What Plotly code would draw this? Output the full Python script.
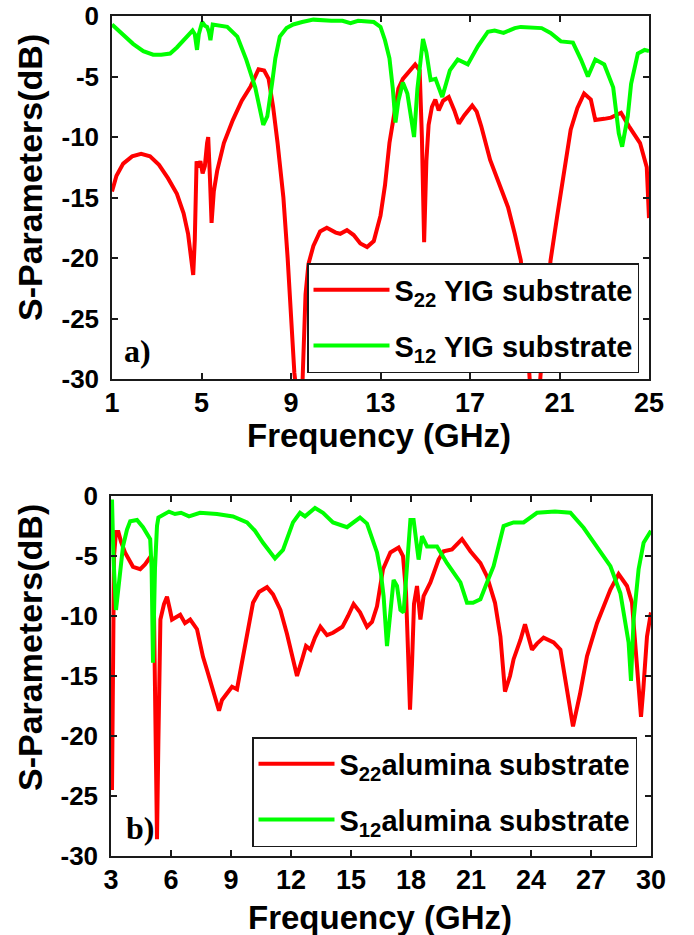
import plotly.graph_objects as go

# ---------------- data: (a) YIG substrate ----------------
freq_a_s22 = [1.0, 1.2, 1.5, 1.9, 2.3, 2.7, 3.1, 3.5, 3.9, 4.2, 4.4, 4.55, 4.63, 4.7, 4.78, 4.85,
              4.95, 5.05, 5.15, 5.25, 5.3, 5.38, 5.45, 5.55, 5.7, 6.0, 6.4, 6.8, 7.2, 7.55, 7.8,
              8.0, 8.2, 8.4, 8.66, 8.85, 9.0, 9.15, 9.3, 9.5, 9.65, 9.78, 10.0, 10.3, 10.6, 11.0,
              11.2, 11.5, 11.8, 12.1, 12.4, 12.7, 13.0, 13.2, 13.4, 13.6, 13.8, 14.0, 14.3, 14.55,
              14.75, 14.85, 14.95, 15.05, 15.15, 15.3, 15.45, 15.6, 15.8, 16.05, 16.3, 16.5, 16.75,
              17.1, 17.3, 17.5, 17.9, 18.3, 18.7, 19.0, 19.27, 19.5, 19.7, 19.9, 20.1, 20.3, 20.6,
              20.9, 21.15, 21.5, 21.8, 22.1, 22.4, 22.6, 23.0, 23.3, 23.75, 24.1, 24.6, 24.9, 25.0]
s22_a = [-14.5, -13.2, -12.2, -11.6, -11.4, -11.6, -12.3, -13.4, -14.7, -16.3, -18.0, -20.5, -21.4,
         -18.5, -12.0, -12.5, -12.0, -13.0, -12.4, -10.5, -10.0, -13.5, -17.1, -14.5, -12.8, -10.5,
         -8.6, -7.0, -5.8, -4.4, -4.5, -5.2, -7.5, -10.5, -15.0, -20.0, -25.0, -29.5, -32.0, -31.0,
         -23.0, -20.5, -19.0, -17.8, -17.5, -17.9, -18.0, -17.7, -18.1, -18.8, -19.1, -18.6, -16.5,
         -14.0, -10.5, -8.3, -6.0, -5.2, -4.5, -4.0, -4.5, -10.0, -18.7, -12.0, -9.0, -7.5, -6.9,
         -7.8, -7.0, -6.7, -7.8, -8.9, -8.2, -7.4, -7.9, -9.1, -11.9, -13.8, -15.8, -18.0, -20.2,
         -25.0, -31.0, -32.0, -31.0, -26.0, -20.2, -16.5, -13.6, -9.4, -7.6, -6.4, -6.9, -8.6,
         -8.5, -8.4, -8.0, -9.1, -10.5, -12.5, -16.7]

freq_a_s12 = [1.0, 1.4, 1.94, 2.4, 2.84, 3.2, 3.6, 3.9, 4.2, 4.45, 4.6, 4.7, 4.8, 4.88, 5.03, 5.15,
              5.25, 5.33, 5.4, 5.5, 5.8, 6.15, 6.6, 7.0, 7.4, 7.6, 7.76, 7.94, 8.05, 8.16, 8.3, 8.5,
              8.8, 9.1, 9.5, 10.0, 10.8, 11.3, 11.66, 12.0, 12.7, 13.0, 13.2, 13.4, 13.55, 13.67,
              13.8, 14.0, 14.2, 14.35, 14.5, 14.65, 14.9, 15.05, 15.24, 15.46, 15.76, 16.1, 16.45,
              16.9, 17.35, 17.8, 18.1, 18.5, 19.0, 19.27, 19.8, 20.2, 20.6, 21.06, 21.6, 21.96,
              22.27, 22.6, 23.0, 23.4, 23.65, 23.8, 24.05, 24.2, 24.5, 24.8, 25.0]
s12_a = [-0.7, -1.4, -2.3, -2.9, -3.2, -3.2, -3.1, -2.6, -2.0, -1.5, -1.2, -1.5, -2.8, -1.5, -0.5,
         -0.8, -0.9, -1.3, -2.0, -0.7, -0.8, -0.9, -1.7, -3.6, -5.9, -7.8, -9.0, -8.3, -7.0, -5.5,
         -3.5, -1.7, -1.0, -0.7, -0.5, -0.3, -0.4, -0.4, -0.6, -0.4, -0.5, -0.9, -2.0, -3.5, -6.0,
         -8.8, -7.0, -5.5, -6.4, -8.0, -10.0, -6.0, -1.9, -3.0, -5.3, -5.2, -6.7, -4.5, -3.6, -4.0,
         -2.5, -1.3, -1.2, -1.4, -1.0, -0.9, -1.0, -1.0, -1.4, -2.1, -2.2, -3.6, -5.0, -3.6, -4.0,
         -5.9, -9.7, -10.8, -8.3, -5.6, -3.1, -2.8, -2.9]

# ---------------- data: (b) alumina substrate ----------------
freq_b_s22 = [3.05, 3.1, 3.15, 3.25, 3.37, 3.5, 3.7, 4.1, 4.46, 4.7, 4.87, 5.0, 5.12, 5.18, 5.25,
              5.3, 5.37, 5.42, 5.47, 5.65, 5.8, 5.95, 6.05, 6.25, 6.46, 6.7, 6.96, 7.3, 7.6, 7.8,
              8.1, 8.4, 8.55, 8.7, 9.05, 9.3, 9.6, 9.85, 10.1, 10.4, 10.8, 11.1, 11.47, 11.8, 12.06,
              12.3, 12.56, 12.75, 12.97, 13.2, 13.47, 13.8, 14.1, 14.57, 14.85, 15.13, 15.45, 15.8,
              16.05, 16.3, 16.6, 16.97, 17.38, 17.6, 17.75, 17.88, 17.95, 18.05, 18.15, 18.3, 18.47,
              18.63, 18.97, 19.38, 19.63, 20.05, 20.55, 20.97, 21.47, 21.8, 22.2, 22.47, 22.7, 22.95,
              23.13, 23.47, 23.7, 24.05, 24.3, 24.63, 25.13, 25.47, 25.8, 26.1, 26.45, 26.8, 27.3,
              27.97, 28.38, 28.8, 29.05, 29.2, 29.35, 29.5, 29.62, 29.8, 30.0]
s22_b = [-24.5, -15.0, -5.0, -3.0, -3.0, -3.8, -4.7, -5.9, -6.1, -5.7, -5.3, -5.0, -6.0, -15.0,
         -25.0, -28.6, -20.3, -14.0, -10.3, -9.0, -8.4, -9.5, -10.3, -10.1, -9.9, -10.6, -10.3,
         -11.1, -13.4, -14.5, -16.1, -17.9, -17.0, -16.7, -15.9, -16.1, -13.4, -11.0, -8.9, -8.0,
         -7.6, -8.2, -9.5, -11.5, -13.3, -15.0, -13.6, -12.5, -12.8, -11.8, -10.9, -11.6, -11.4,
         -10.9, -10.0, -9.0, -9.7, -10.9, -10.5, -9.2, -6.1, -4.7, -4.3, -5.0, -8.0, -14.5, -17.8,
         -14.0, -9.0, -7.5, -10.3, -8.35, -7.2, -5.3, -4.6, -4.45, -3.6, -4.6, -5.6, -6.7, -8.9,
         -11.7, -16.3, -15.0, -13.6, -12.0, -10.7, -12.8, -12.3, -11.8, -12.2, -12.8, -16.0, -19.2,
         -16.5, -13.35, -10.6, -7.8, -6.5, -7.5, -8.9, -12.0, -16.0, -18.4, -16.0, -11.7, -9.7]

freq_b_s12 = [3.05, 3.12, 3.25, 3.4, 3.6, 3.8, 3.96, 4.3, 4.6, 4.96, 5.03, 5.1, 5.2, 5.3, 5.37, 5.9,
              6.2, 6.5, 6.9, 7.45, 8.3, 9.1, 9.8, 10.2, 10.6, 11.2, 11.6, 12.1, 12.45, 12.7, 13.2,
              13.6, 14.1, 14.8, 15.45, 15.8, 16.3, 16.5, 16.63, 16.8, 16.97, 17.13, 17.3, 17.47,
              17.63, 17.8, 17.97, 18.13, 18.38, 18.55, 18.8, 19.3, 19.8, 20.47, 20.8, 21.1, 21.47,
              21.8, 22.13, 22.63, 23.13, 23.63, 24.3, 25.2, 25.97, 26.63, 27.3, 27.97, 28.47, 28.88,
              29.0, 29.13, 29.38, 29.63, 30.0]
s12_b = [-0.3, -5.0, -9.5, -7.0, -4.2, -2.8, -2.1, -2.0, -2.6, -3.6, -6.0, -13.9, -6.0, -2.5, -1.8,
         -1.3, -1.5, -1.4, -1.7, -1.4, -1.5, -1.7, -2.2, -2.9, -3.9, -5.2, -4.5, -2.2, -1.4, -1.7,
         -1.0, -1.4, -2.2, -2.6, -1.8, -2.3, -4.7, -6.5, -8.35, -12.5, -9.5, -7.0, -7.5, -9.5, -9.7,
         -6.1, -2.0, -2.0, -5.3, -3.35, -4.2, -4.2, -5.6, -7.2, -8.9, -8.9, -8.6, -7.2, -5.85, -2.5,
         -2.2, -2.2, -1.4, -1.3, -1.4, -2.65, -4.2, -5.85, -8.1, -12.2, -15.4, -10.3, -6.1, -3.9,
         -2.9]

y_ticks = [0, -5, -10, -15, -20, -25, -30]
x_ticks_a = [1, 5, 9, 13, 17, 21, 25]
x_ticks_b = [3, 6, 9, 12, 15, 18, 21, 24, 27, 30]

RED = "#ff0000"
GREEN = "#00ff00"
AXC = "#1a1a1a"
SANS = "Liberation Sans, Arial, sans-serif"
SERIF = "Liberation Serif, Times New Roman, serif"

W, H = 694, 935

def fx(px):
    return px / W

def fy(py):
    return 1 - py / H

fig = go.Figure()
fig.add_trace(go.Scatter(x=freq_a_s22, y=s22_a, mode="lines", line=dict(color=RED, width=4),
                         name="S<sub>22</sub> YIG substrate", legend="legend", legendgroup="a1",
                         xaxis="x", yaxis="y"))
fig.add_trace(go.Scatter(x=freq_a_s12, y=s12_a, mode="lines", line=dict(color=GREEN, width=4),
                         name="S<sub>12</sub> YIG substrate", legend="legend", legendgroup="a2",
                         xaxis="x", yaxis="y"))
fig.add_trace(go.Scatter(x=freq_b_s22, y=s22_b, mode="lines", line=dict(color=RED, width=4),
                         name="S<sub>22</sub>alumina substrate", legend="legend2", legendgroup="b1",
                         xaxis="x2", yaxis="y2"))
fig.add_trace(go.Scatter(x=freq_b_s12, y=s12_b, mode="lines", line=dict(color=GREEN, width=4),
                         name="S<sub>12</sub>alumina substrate", legend="legend2", legendgroup="b2",
                         xaxis="x2", yaxis="y2"))

def xax(domain, rng, ticks, anchor):
    return dict(domain=domain, range=rng, tickvals=ticks, ticktext=[str(t) for t in ticks],
                anchor=anchor, showline=True, mirror="ticks", linecolor=AXC, linewidth=1.5,
                ticks="inside", ticklen=6, tickwidth=1.5, tickcolor=AXC, showgrid=False,
                zeroline=False, automargin=False, ticklabeloverflow="allow",
                tickfont=dict(family=SANS, size=27, color="black", weight="bold"),
                ticklabelstandoff=-1)

def yax(domain, anchor):
    return dict(domain=domain, range=[-30, 0], tickvals=y_ticks, ticktext=[str(t) for t in y_ticks],
                anchor=anchor, showline=True, mirror="ticks", linecolor=AXC, linewidth=1.5,
                ticks="inside", ticklen=6, tickwidth=1.5, tickcolor=AXC, showgrid=False,
                zeroline=False, automargin=False, ticklabeloverflow="allow",
                tickfont=dict(family=SANS, size=26, color="black", weight="bold"),
                ticklabelstandoff=6)

legend_common = dict(bgcolor="white", bordercolor=AXC, borderwidth=1.5,
                     font=dict(family=SANS, size=29, color="black", weight="bold"),
                     tracegroupgap=15, itemwidth=76, xanchor="right", yanchor="bottom")

fig.update_layout(
    width=W, height=H, margin=dict(l=0, r=0, t=0, b=0, autoexpand=False),
    paper_bgcolor="white", plot_bgcolor="white",
    xaxis=xax([fx(112), fx(649)], [1, 25], x_ticks_a, "y"),
    yaxis=yax([fy(379), fy(16)], "x"),
    xaxis2=xax([fx(111), fx(651)], [3, 30], x_ticks_b, "y2"),
    yaxis2=yax([fy(856), fy(496)], "x2"),
    legend=dict(x=fx(639), y=fy(373), **legend_common),
    legend2=dict(x=fx(637), y=fy(847), **legend_common),
    showlegend=True,
)

title_font = dict(family=SANS, size=34, color="black", weight="bold")
annots = [
    dict(text="S-Parameters(dB)", textangle=-90, x=fx(30), y=fy(178), xref="paper", yref="paper",
         xanchor="center", yanchor="middle", showarrow=False, font=title_font),
    dict(text="S-Parameters(dB)", textangle=-90, x=fx(30), y=fy(648), xref="paper", yref="paper",
         xanchor="center", yanchor="middle", showarrow=False, font=title_font),
    dict(text="Frequency (GHz)", x=fx(379), y=fy(435), xref="paper", yref="paper",
         xanchor="center", yanchor="middle", showarrow=False, font=dict(title_font, size=33)),
    dict(text="Frequency (GHz)", x=fx(380), y=fy(917), xref="paper", yref="paper",
         xanchor="center", yanchor="middle", showarrow=False, font=dict(title_font, size=33)),
    dict(text="a)", x=2.12, y=-27.7, xref="x", yref="y", xanchor="center", yanchor="middle",
         showarrow=False, font=dict(family=SERIF, size=32, color="black", weight="bold")),
    dict(text="b)", x=4.47, y=-27.7, xref="x2", yref="y2", xanchor="center", yanchor="middle",
         showarrow=False, font=dict(family=SERIF, size=32, color="black", weight="bold")),
]
fig.update_layout(annotations=annots)

# remove the page's default 8px body margin so the figure fills the window exactly
fig.write_html("out.html", config={"displayModeBar": False},
               post_script="document.body.style.margin='0';document.body.style.overflow='hidden';")
